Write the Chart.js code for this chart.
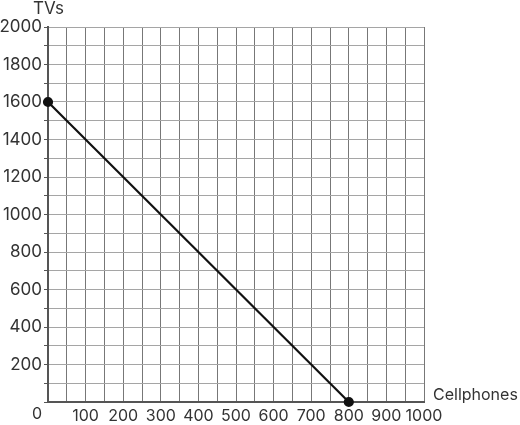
<!DOCTYPE html>
<html>
<head>
<meta charset="utf-8">
<script src="https://cdn.jsdelivr.net/npm/chart.js@4"></script>
<style>
html,body{margin:0;padding:0;background:#fff;}
#wrap{position:relative;width:520px;height:425px;}
</style>
</head>
<body>
<div id="wrap"><canvas id="c" width="520" height="425"></canvas></div>
<script>
const cellphones = [0, 800];
const tvs = [1600, 0];
const xTickLabels = [100, 200, 300, 400, 500, 600, 700, 800, 900, 1000];
const yTickLabels = [200, 400, 600, 800, 1000, 1200, 1400, 1600, 1800, 2000];
const xTitle = 'Cellphones';
const yTitle = 'TVs';
const cornerLabel = '0';

const FONT = 'Inter, Lato, sans-serif';
const TEXT = '#333333';

const titlesPlugin = {
  id: 'titles',
  afterDraw(chart) {
    const {ctx, chartArea, scales} = chart;
    ctx.save();
    ctx.fillStyle = TEXT;
    ctx.textBaseline = 'middle';
    ctx.textAlign = 'left';
    ctx.font = '17px ' + FONT;
    ctx.fillText(yTitle, chartArea.left - 15, chartArea.top - 18);
    ctx.font = '16px ' + FONT;
    ctx.fillText(xTitle, chartArea.right + 9, scales.y.getPixelForValue(0) - 7);
    ctx.font = '16px ' + FONT;
    ctx.textAlign = 'center';
    ctx.fillText(cornerLabel, chartArea.left - 11, scales.y.getPixelForValue(0) + 12);
    ctx.restore();
  }
};

new Chart(document.getElementById('c'), {
  type: 'line',
  data: {
    datasets: [{
      data: cellphones.map((x, i) => ({x: x, y: tvs[i]})),
      borderColor: '#111',
      backgroundColor: '#111',
      borderWidth: 2.2,
      pointRadius: 4,
      pointHoverRadius: 4,
      clip: false,
      tension: 0
    }]
  },
  options: {
    responsive: false,
    animation: false,
    events: [],
    layout: {padding: {top: 27, right: 96, left: 0, bottom: 0}},
    plugins: {legend: {display: false}, tooltip: {enabled: false}},
    scales: {
      x: {
        type: 'linear',
        min: 0, max: 1000,
        afterFit(s) { s.height = 23; },
        border: {display: true, color: '#555', width: 2},
        grid: {color: '#777', lineWidth: 1, drawTicks: false},
        ticks: {
          stepSize: 50,
          autoSkip: false,
          maxRotation: 0,
          padding: 5,
          color: TEXT,
          font: {family: FONT, size: 16},
          callback: (v) => xTickLabels.includes(v) ? String(v) : ''
        }
      },
      y: {
        type: 'linear',
        min: 0, max: 2000,
        afterFit(s) { s.width = 48; },
        border: {display: true, color: '#555', width: 2},
        grid: {color: '#a5a5a5', lineWidth: 1, drawTicks: true, tickLength: 4, tickColor: '#555'},
        ticks: {
          stepSize: 100,
          autoSkip: false,
          padding: 2,
          color: TEXT,
          font: {family: FONT, size: 17},
          callback: (v) => yTickLabels.includes(v) ? String(v) : ''
        }
      }
    }
  },
  plugins: [titlesPlugin]
});
</script>
</body>
</html>
